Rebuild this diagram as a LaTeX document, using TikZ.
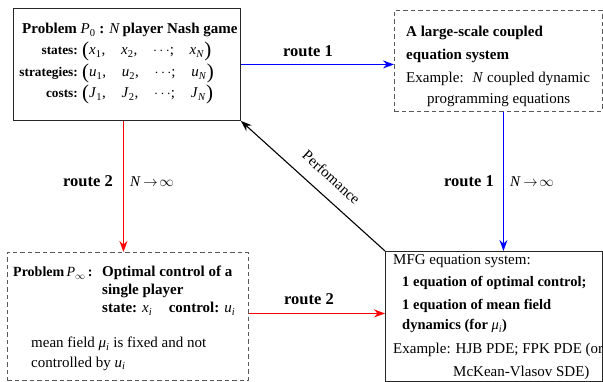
\documentclass[tikz,border=0pt]{standalone}
\usepackage{fontspec}
\setmainfont{Liberation Serif}
\usetikzlibrary{arrows.meta}
% italic variable with a subscript
\newcommand\vsub[2]{\textit{#1}\textsubscript{#2}}
\newcommand\gap{\hspace{1.05em}}
% tuple in tall round brackets
\newcommand\tup[1]{\raisebox{-1.5pt}{\fontsize{21}{21}\selectfont(}#1\raisebox{-1.5pt}{\fontsize{21}{21}\selectfont)}}

\begin{document}
\begin{tikzpicture}[x=1pt,y=-1pt,
  txt/.style={font=\fontsize{15}{18}\selectfont, inner sep=0pt},
  lineW/.style={txt, anchor=base west},
  lineE/.style={txt, anchor=base east, font=\fontsize{13.3}{16}\selectfont\bfseries},
  solidbox/.style={draw=black!85, line width=0.9pt, inner sep=0pt, anchor=north west},
  dashbox/.style={draw=black!65, line width=0.9pt, dash pattern=on 4.5pt off 3pt, inner sep=0pt, anchor=north west},
  tip/.style={-{Stealth[length=11pt,width=8pt]}},
  blueflow/.style={tip, draw=blue, fill=blue, line width=1.1pt},
  redflow/.style={tip, draw=red, fill=red, line width=1.1pt},
  blackflow/.style={tip, draw=black, line width=1.1pt},
  lbl/.style={txt, anchor=base, font=\fontsize{16.5}{19}\selectfont\bfseries}]

\useasboundingbox (0,0) rectangle (603,382);

% boxes
\node[solidbox, minimum width=227pt, minimum height=112pt] (p0) at (13,8) {};
\node[dashbox, minimum width=207.5pt, minimum height=101pt] (big) at (394,10) {};
\node[dashbox, minimum width=241pt, minimum height=128pt] (pinf) at (7,252) {};
\node[solidbox, minimum width=216.5pt, minimum height=130pt] (mfg) at (385,251) {};

% N-player game
\node[lineW] (p0a) at (22,34) {\textbf{Problem} \vsub{P}{0}\textbf{ : }\textit{N}\,\textbf{player Nash game}};
\node[lineE] (p0b) at (78,55) {states:};
\node[lineE] (p0c) at (78,77) {strategies:};
\node[lineE] (p0d) at (78,98) {costs:};
\node[lineW] (p0e) at (82,55) {\tup{\vsub{x}{1},\gap\vsub{x}{2},\gap$\cdots$;\gap\vsub{x}{\textit{N}}}};
\node[lineW] (p0f) at (82,77) {\tup{\vsub{u}{1},\gap\vsub{u}{2},\gap$\cdots$;\gap\vsub{u}{\textit{N}}}};
\node[lineW] (p0g) at (82,98) {\tup{\vsub{J}{1},\gap\vsub{J}{2},\gap$\cdots$;\gap\vsub{J}{\textit{N}}}};

% coupled equation system
\node[lineW] (biga) at (406,37) {\textbf{A large-scale coupled}};
\node[lineW] (bigb) at (406,60) {\textbf{equation system}};
\node[lineW] (bigc) at (406,83) {Example:\hspace{0.6em}\textit{N} coupled dynamic};
\node[lineW] (bigd) at (427,104) {programming equations};

% single-player control problem
\node[lineW, font=\fontsize{14}{17}\selectfont] (pia) at (13,277) {\textbf{Problem}\,\vsub{P}{$\infty$}\,\textbf{:}};
\node[lineW] (pib) at (102,277) {\textbf{Optimal control of a}};
\node[lineW] (pic) at (102,295) {\textbf{single player}};
\node[lineW] (pid) at (102,313) {\textbf{state:} \vsub{x}{\textit{i}}\hspace{1.1em}\textbf{control:} \vsub{u}{\textit{i}}};
\node[lineW] (pie) at (31,348) {mean field \vsub{μ}{\textit{i}} is fixed and not};
\node[lineW] (pif) at (31,367) {controlled by \vsub{u}{\textit{i}}};

% MFG system
\node[lineW] (mfa) at (393,265) {MFG equation system:};
\node[lineW, font=\fontsize{14.5}{17}\selectfont] (mfb) at (402,287) {\textbf{1 equation of optimal control;}};
\node[lineW, font=\fontsize{14.5}{17}\selectfont] (mfc) at (402,310) {\textbf{1 equation of mean field}};
\node[lineW, font=\fontsize{14.5}{17}\selectfont] (mfd) at (402,330) {\textbf{dynamics (for }\vsub{μ}{\textit{i}}\textbf{)}};
\node[lineW] (mfe) at (393,353) {Example: HJB PDE; FPK PDE (or};
\node[lineW] (mff) at (453,377) {McKean-Vlasov SDE)};

% connectors
\draw[blueflow] (p0.east) -- (p0.east -| big.west);
\draw[blueflow] ([xshift=5.25pt]big.south) -- ([xshift=5.25pt]big.south |- mfg.north);
\draw[redflow] ([xshift=-3.5pt]p0.south) -- ([xshift=-3.5pt]p0.south |- pinf.north);
\draw[redflow] ([yshift=3pt]pinf.east) -- ([yshift=3pt]pinf.east -| mfg.west);
\draw[blackflow] (mfg.north west) -- node[txt, sloped, above=13pt, pos=0.46] (perf) {Perfomance} (p0.south east);

% route labels
\node[lbl] (r1a) at (308,57) {route 1};
\node[lbl] (r2a) at (88,187) {route 2};
\node[lineW] (n2) at (130,187) {\textit{N}\,$\rightarrow\!\infty$};
\node[lbl] (r1b) at (469,187) {route 1};
\node[lineW] (n1) at (510,187) {\textit{N}\,$\rightarrow\!\infty$};
\node[lbl] (r2b) at (309,305) {route 2};
\end{tikzpicture}
\end{document}
